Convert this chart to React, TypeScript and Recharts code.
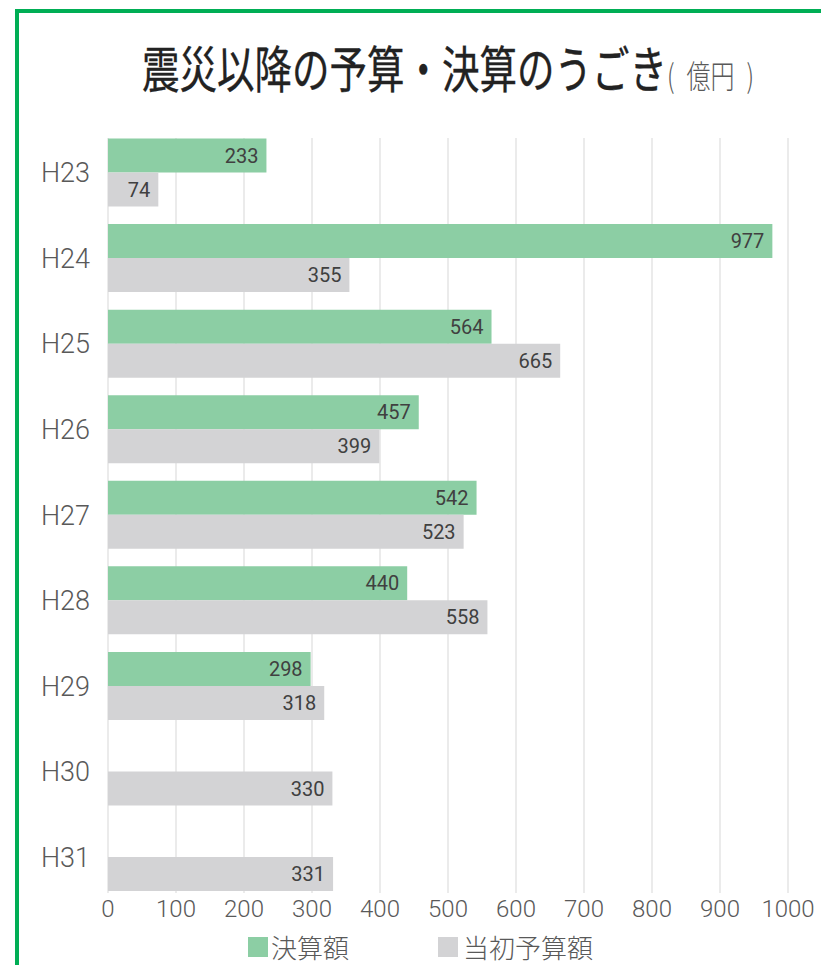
import { BarChart, Bar, XAxis, YAxis, CartesianGrid, LabelList } from "recharts";

// fiscal years
const years = ["H23", "H24", "H25", "H26", "H27", "H28", "H29", "H30", "H31"];
// 決算額 (settled), none yet for H30/H31
const settled: (number | null)[] = [233, 977, 564, 457, 542, 440, 298, null, null];
// 当初予算額 (initial budget)
const budget = [74, 355, 665, 399, 523, 558, 318, 330, 331];
const xTicks = [0, 100, 200, 300, 400, 500, 600, 700, 800, 900, 1000];

const data = years.map((y, i) => ({ year: y, settled: settled[i], budget: budget[i] }));

const GREEN = "#8ccea4";
const GRAY = "#d3d3d5";
const TEXT = "#595959";
const LABEL_FONT = "Roboto, 'Liberation Sans', sans-serif";

export default function App() {
  return (
    <div
      style={{
        position: "fixed",
        left: 0,
        top: 0,
        width: 821,
        height: 965,
        overflow: "hidden",
        background: "#fff",
        fontFamily: "'Noto Sans CJK JP', 'Noto Sans', sans-serif",
      }}
    >
      {/* green frame */}
      <div
        style={{
          position: "absolute",
          left: 15,
          top: 9,
          width: 900,
          height: 1000,
          borderLeft: "4px solid #00ae55",
          borderTop: "4px solid #00ae55",
        }}
      />

      {/* title */}
      <div
        style={{
          position: "absolute",
          left: 0,
          top: 36,
          width: 896,
          textAlign: "center",
          whiteSpace: "nowrap",
        }}
      >
        <span
          style={{
            display: "inline-block",
            transform: "scaleX(0.75)",
            color: "#222",
          }}
        >
          <span style={{ fontSize: 50, fontWeight: 400, lineHeight: "60px", WebkitTextStroke: "0.35px #222" }}>
            震災以降の予算・決算のうごき
          </span>
          <span style={{ fontSize: 32, color: TEXT, lineHeight: "60px", fontWeight: 300 }}>(&ensp;億円&ensp;)</span>
        </span>
      </div>

      <div style={{ position: "absolute", left: 0, top: 0 }}>
        <BarChart
          width={821}
          height={930}
          data={data}
          layout="vertical"
          margin={{ top: 130, right: 33, bottom: 0, left: 0 }}
          barCategoryGap="10%"
          barGap={0}
        >
          <CartesianGrid horizontal={false} stroke="#ebebeb" strokeWidth={2} y={138} height={755} />
          <XAxis
            type="number"
            domain={[0, 1000]}
            ticks={xTicks}
            height={30}
            axisLine={false}
            tickLine={false}
            tickSize={0}
            tickMargin={0}
            tick={{ fill: TEXT, fontSize: 24, fontWeight: 300, fontFamily: LABEL_FONT }}
          />
          <YAxis
            type="category"
            dataKey="year"
            width={108}
            axisLine={false}
            tickLine={false}
            tickSize={0}
            tickMargin={18}
            tick={{ fill: TEXT, fontSize: 27, fontWeight: 300, fontFamily: LABEL_FONT }}
          />
          <Bar dataKey="settled" fill={GREEN} isAnimationActive={false}>
            <LabelList
              dataKey="settled"
              position="insideRight"
              offset={8}
              fill="#404040"
              fontSize={20}
              fontFamily={LABEL_FONT}
              formatter={(v: any) => (v == null ? "" : v)}
            />
          </Bar>
          <Bar dataKey="budget" fill={GRAY} isAnimationActive={false}>
            <LabelList
              dataKey="budget"
              position="insideRight"
              offset={8}
              fill="#404040"
              fontSize={20}
              fontFamily={LABEL_FONT}
            />
          </Bar>
        </BarChart>
      </div>

      {/* legend */}
      <div
        style={{
          position: "absolute",
          top: 929,
          left: 248,
          display: "flex",
          alignItems: "center",
          color: TEXT,
          fontSize: 26,
          fontWeight: 300,
          lineHeight: "36px",
          whiteSpace: "nowrap",
        }}
      >
        <span style={{ width: 20, height: 20, background: GREEN, display: "inline-block", marginRight: 3 }} />
        <span>決算額</span>
        <span
          style={{ width: 20, height: 20, background: GRAY, display: "inline-block", marginLeft: 89, marginRight: 5 }}
        />
        <span>当初予算額</span>
      </div>
    </div>
  );
}
